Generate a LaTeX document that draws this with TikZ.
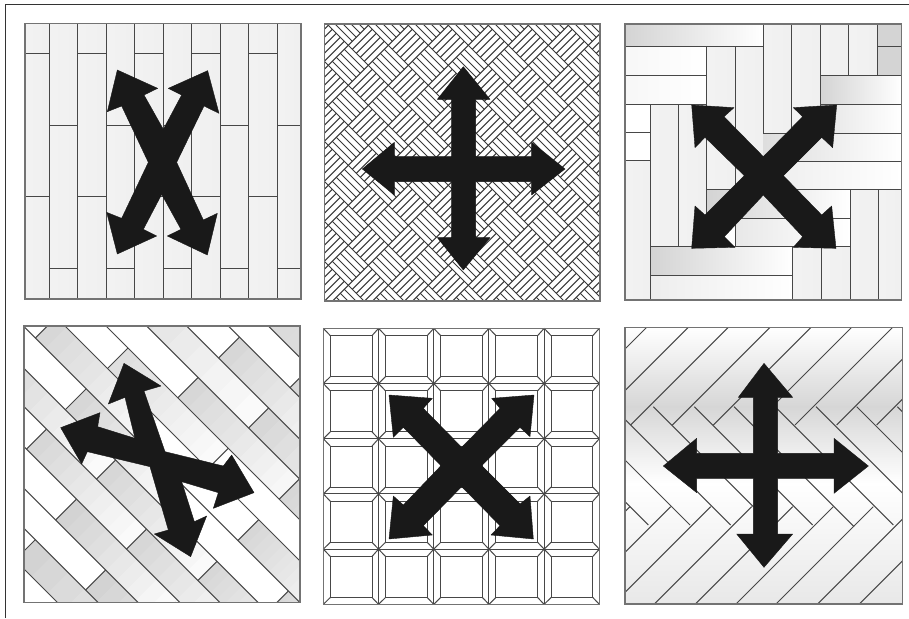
\documentclass[tikz,border=0pt]{standalone}
\newcommand{\splank}[6]{%
 \foreach \i in {0,...,9}{%
  \pgfmathsetmacro\ss{#1+(#2-#1)*\i/10}%
  \pgfmathsetmacro\gg{0.62*(#5+(#6-#5)*\i/9)}%
  \fill[black!\gg] ({(\ss+#3)/2},{(\ss-#3)/2}) -- ({(#2+#3)/2},{(#2-#3)/2}) -- ({(#2+#4)/2},{(#2-#4)/2}) -- ({(\ss+#4)/2},{(\ss-#4)/2}) -- cycle;
 }}
\newcommand{\sjoint}[3]{\draw[joint] ({(#1+#2)/2},{(#1-#2)/2}) -- ({(#1+#3)/2},{(#1-#3)/2});}
\newcommand{\bplank}[4]{\shade[left color=black!17,right color=white,shading=axis] (#1,#2) rectangle (#3,#4);}
\newcommand{\vplank}[4]{\shade[left color=black!5,middle color=white,right color=black!6] (#1,#2) rectangle (#3,#4);}
\tikzset{
 joint/.style={draw=black!72,line width=1pt},
 thinline/.style={draw=black!78,line width=1.05pt},
 edgeframe/.style={draw=black!55,line width=1.2pt},
 bigarrow/.style={fill=black!90,draw=black!90,line width=0.4pt,line join=round},
 panel/.style={x=0.33333pt,y=-0.33333pt}
}
\begin{document}
\begin{tikzpicture}[x=1pt,y=-1pt]
\useasboundingbox (0,0) rectangle (909,618);
\fill[white] (0,0) rectangle (909,618);
\draw[black!80,line width=1pt] (5,618) -- (5,5) -- (909,5);

% ---------- panel 1
\begin{scope}[shift={(0,0)},panel]
 \foreach \a/\b in {75/147,147/232,232/318,318/403,403/489,489/575,575/660,660/746,746/832,832/903}
  {\vplank{\a}{70}{\b}{897}}
 \foreach \a/\b in {147/232,318/403,489/575,660/746,832/903}
  {\draw[joint] (\a,376) -- (\b,376); \draw[joint] (\a,806) -- (\b,806);}
 \foreach \a/\b in {75/147,232/318,403/489,575/660,746/832}
  {\draw[joint] (\a,161) -- (\b,161); \draw[joint] (\a,591) -- (\b,591);}
 \foreach \a in {147,232,318,403,489,575,660,746,832}
  {\draw[joint] (\a,70) -- (\a,897);}
 \draw[edgeframe] (75,70) rectangle (903,897);
 \fill[bigarrow] (352,210)--(473,265)--(432,285)--(490,388)--(545,285)--(505,265)--(623,212)--(657,340)--(612,318)--(530,487)--(610,660)--(652,640)--(622,765)--(502,708)--(543,688)--(485,583)--(430,688)--(470,708)--(352,762)--(320,637)--(365,655)--(445,487)--(365,318)--(322,335)--cycle;
\end{scope}

% ---------- panel 2
\begin{scope}[shift={(310,10)},panel]
 \begin{scope}
 \clip (43,42) rectangle (870,873);
 \foreach \u in {-4,-2,...,12}{\foreach \v in {-4,-2,...,12}{\foreach \t in {-1,-0.6,-0.2,0.2,0.6,1}{
   \draw[thinline] ({175+60*(\u)-30+30*\t},{226+60*(\v)+30+30*\t}) -- ({175+60*(\u)+30+30*\t},{226+60*(\v)-30+30*\t});
 }}}
 \foreach \u in {-3,-1,...,13}{\foreach \v in {-5,-3,...,13}{\foreach \t in {-1,-0.6,-0.2,0.2,0.6,1}{
   \draw[thinline] ({175+60*(\u)-30+30*\t},{226+60*(\v)-30-30*\t}) -- ({175+60*(\u)+30+30*\t},{226+60*(\v)+30-30*\t});
 }}}
 \end{scope}
 \draw[edgeframe] (43,42) rectangle (870,873);
 \fill[bigarrow] (460,170)--(540,268)--(497,268)--(497,440)--(665,440)--(665,397)--(765,477)--(665,555)--(665,515)--(497,515)--(497,683)--(540,683)--(460,780)--(382,683)--(425,683)--(425,515)--(253,515)--(253,555)--(157,477)--(253,397)--(253,440)--(425,440)--(425,268)--(382,268)--cycle;
\end{scope}

% ---------- panel 3
\begin{scope}[shift={(610,10)},panel]
 \bplank{45}{42}{460}{110}
 \vplank{460}{42}{545}{370}
 \vplank{545}{42}{630}{370}
 \vplank{630}{42}{715}{197}
 \vplank{715}{42}{803}{197}
 \fill[black!17] (803,42) rectangle (875,197);
 \shade[left color=black!3,right color=white] (45,110) rectangle (290,197);
 \shade[left color=black!3,right color=white] (45,197) rectangle (290,283);
 \vplank{290}{110}{375}{540}
 \vplank{375}{110}{460}{540}
 \fill[white] (45,283) rectangle (120,453);
 \vplank{45}{453}{120}{870}
 \vplank{120}{283}{205}{710}
 \vplank{205}{283}{290}{710}
 \bplank{630}{197}{875}{283}
 \shade[left color=black!10,right color=white] (630,283) rectangle (875,370);
 \shade[left color=black!13,right color=white] (460,370) rectangle (875,455);
 \shade[left color=black!7,right color=white] (460,455) rectangle (875,540);
 \bplank{290}{540}{720}{625}
 \shade[left color=black!9,right color=white] (375,625) rectangle (720,710);
 \bplank{120}{710}{548}{797}
 \shade[left color=black!7,right color=white] (120,797) rectangle (548,870);
 \vplank{548}{710}{635}{870}
 \vplank{635}{710}{720}{870}
 \vplank{720}{540}{805}{870}
 \vplank{805}{540}{875}{870}
 \foreach \x/\a/\b in {460/42/370,545/42/370,630/42/370,715/42/197,803/42/197,290/110/710,375/110/540,120/283/870,205/283/710,720/540/870,805/540/870,548/710/870,635/710/870,375/625/710}
  {\draw[joint] (\x,\a) -- (\x,\b);}
 \foreach \y/\a/\b in {110/45/460,197/45/290,283/45/290,368/45/120,453/45/120,110/803/875,197/630/875,283/630/875,370/460/875,455/460/875,540/290/875,625/375/720,710/120/720,797/120/548}
  {\draw[joint] (\a,\y) -- (\b,\y);}
 \draw[edgeframe] (45,42) rectangle (875,870);
 \fill[bigarrow] (245,285)--(372,293)--(342,320)--(460,440)--(578,320)--(550,293)--(680,285)--(668,413)--(635,382)--(520,497)--(635,615)--(665,588)--(678,715)--(550,712)--(578,680)--(460,555)--(343,680)--(375,712)--(245,715)--(255,588)--(285,615)--(403,497)--(285,382)--(255,413)--cycle;
\end{scope}

% ---------- panel 4
\begin{scope}[shift={(0,310)},panel]
 \begin{scope}
 \clip (72,48) rectangle (900,878);
 \splank{795}{1778}{-705}{-583}{28}{4}
 \splank{1097}{1778}{-583}{-463}{28}{4}
 \splank{797}{1400}{-463}{-338}{28}{4}
 \splank{497}{1097}{-338}{-218}{25}{3}
 \splank{1097}{1700}{-338}{-218}{25}{3}
 \splank{120}{797}{-218}{-103}{25}{3}
 \splank{797}{1405}{-218}{-103}{25}{3}
 \splank{1405}{1778}{-218}{-103}{25}{10}
 \splank{495}{1100}{-103}{22}{25}{3}
 \splank{1708}{1778}{-103}{22}{25}{20}
 \splank{190}{800}{22}{147}{25}{5}
 \splank{1405}{1778}{22}{147}{25}{10}
 \splank{498}{1100}{147}{270}{20}{3}
 \splank{797}{1405}{270}{392}{25}{5}
 \splank{1405}{1778}{270}{392}{25}{15}
 \splank{120}{1100}{392}{512}{25}{3}
 \splank{1100}{1778}{392}{512}{25}{3}
 \splank{800}{1408}{512}{637}{25}{5}
 \splank{1103}{1778}{637}{757}{25}{20}
 \splank{120}{1778}{757}{880}{25}{20}
 \foreach \c in {-705,-583,-463,-338,-218,-103,22,147,270,392,512,637,757}
  {\draw[joint] ({(100+\c)/2},{(100-\c)/2}) -- ({(1900+\c)/2},{(1900-\c)/2});}
 \foreach \s/\a/\b in {795/-705/-583,1097/-583/-463,797/-463/-338,497/-338/-218,1097/-338/-218,797/-218/-103,1405/-218/-103,495/-103/22,1708/-103/22,190/22/147,1405/22/147,498/147/270,1100/147/270,797/270/392,1405/270/392,1100/392/512,800/512/637,1103/637/757}
  {\sjoint{\s}{\a}{\b}}
 \end{scope}
 \draw[edgeframe] (72,48) rectangle (900,878);
 \fill[bigarrow] (372,160)--(483,228)--(432,243)--(495,425)--(670,468)--(695,435)--(762,548)--(640,595)--(655,548)--(545,515)--(583,635)--(620,618)--(572,740)--(463,672)--(505,660)--(450,470)--(262,425)--(245,462)--(182,353)--(300,308)--(293,350)--(405,385)--(375,262)--(325,282)--cycle;
\end{scope}

% ---------- panel 5
\begin{scope}[shift={(310,310)},panel]
 \foreach \x in {40,205.6,371.2,536.8,702.4}{\foreach \y in {55,220.6,386.2,551.8,717.4}{
  \draw[joint] (\x,\y) rectangle (\x+165.6,\y+165.6);
  \draw[joint] (\x+21,\y+22) rectangle (\x+146,\y+145);
  \draw[joint] (\x,\y) -- (\x+21,\y+22);
  \draw[joint] (\x+165.6,\y) -- (\x+146,\y+22);
  \draw[joint] (\x,\y+165.6) -- (\x+21,\y+145);
  \draw[joint] (\x+165.6,\y+165.6) -- (\x+146,\y+145);
 }}
 \draw[edgeframe] (40,55) rectangle (868,883);
 \fill[bigarrow] (237,255)--(367,265)--(340,295)--(455,412)--(570,295)--(545,265)--(672,255)--(660,380)--(630,352)--(515,467)--(630,582)--(660,558)--(670,687)--(543,675)--(570,647)--(455,530)--(340,647)--(367,675)--(237,687)--(250,558)--(280,585)--(393,467)--(280,352)--(250,382)--cycle;
\end{scope}

% ---------- panel 6
\begin{scope}[shift={(610,310)},panel]
 \begin{scope}
 \clip (45,52) rectangle (878,882);
 \shade[top color=white,bottom color=black!16] (45,52) rectangle (878,290);
 \shade[top color=black!16,bottom color=white] (45,290) rectangle (878,520);
 \shade[top color=white,bottom color=black!9] (45,520) rectangle (878,882);
 \foreach \s in {162,287,407,532,655,777,900,1025,1145}
  {\draw[joint] ({\s-345},345) -- ({\s-30},30);}
 \foreach \c/\t/\b in {-283/328/645,-160/290/590,-37/290/645,82/290/650,205/290/645,328/290/600,450/290/450,572/290/320,-405/450/645,-530/575/645}
  {\draw[joint] ({\t+\c},\t) -- ({\b+\c},\b);}
 \foreach \s in {650,772,892,1015,1138,1260,1380,1505,1630}
  {\draw[joint] ({\s-590},590) -- ({\s-900},900);}
 \end{scope}
 \draw[edgeframe] (45,52) rectangle (878,882);
 \fill[bigarrow] (462,160)--(548,262)--(503,262)--(503,430)--(672,430)--(672,385)--(775,468)--(672,550)--(672,505)--(503,505)--(503,672)--(548,672)--(462,772)--(380,672)--(430,672)--(430,505)--(260,505)--(260,548)--(160,468)--(260,385)--(260,430)--(430,430)--(430,262)--(385,262)--cycle;
\end{scope}
\end{tikzpicture}
\end{document}
